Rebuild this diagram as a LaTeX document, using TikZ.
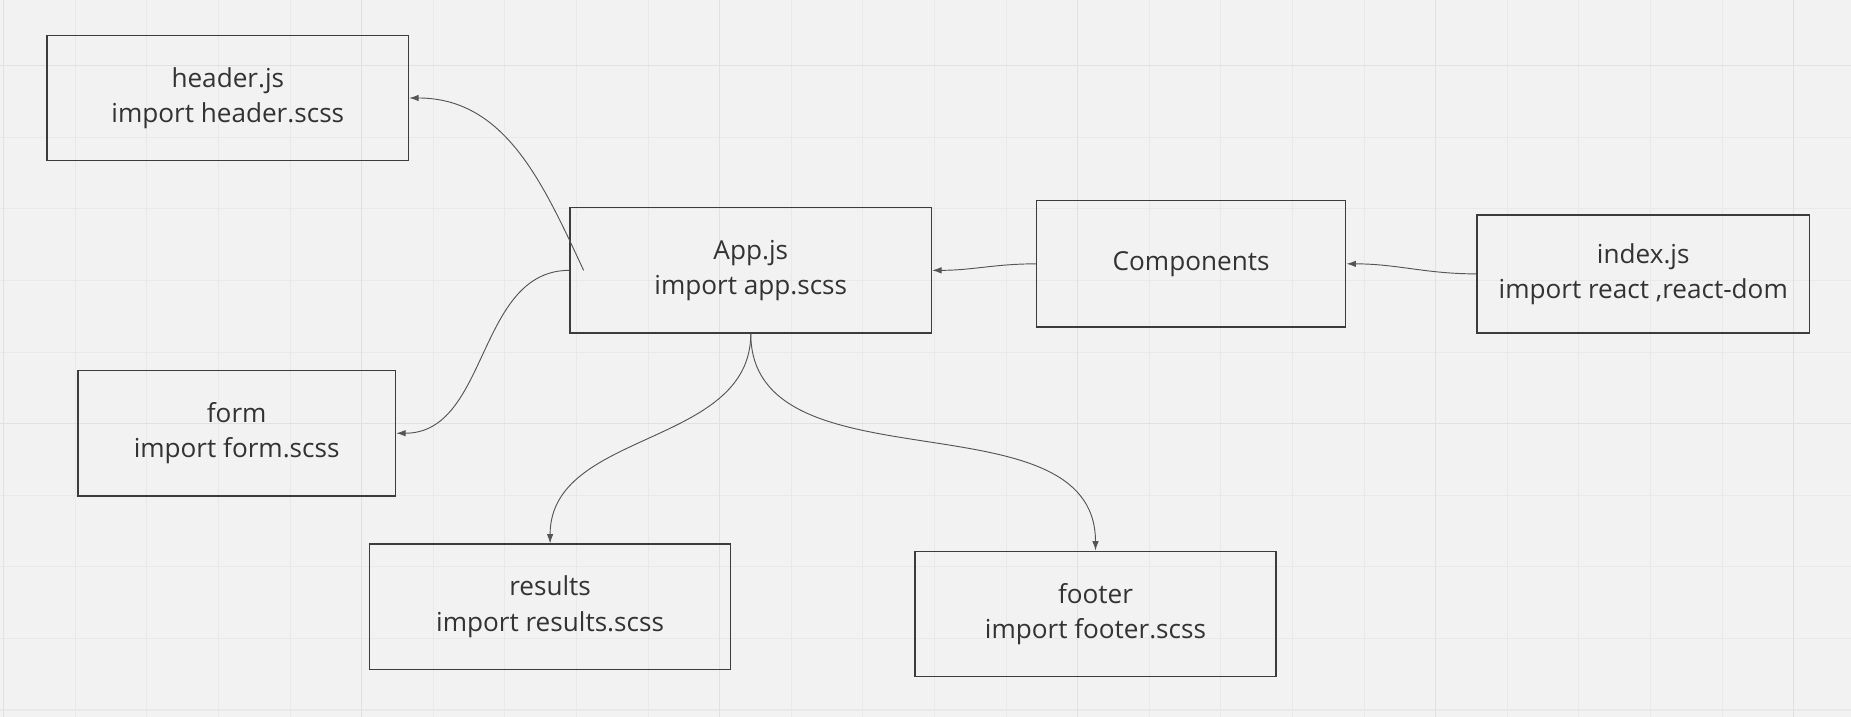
\documentclass[tikz,border=0pt]{standalone}
\usepackage{fontspec}
\setmainfont{Open Sans}
\usepackage{tikz}
\usetikzlibrary{arrows.meta,calc}
\definecolor{board}{HTML}{F2F2F2}
\definecolor{gridln}{HTML}{E9E9E9}
\definecolor{gridmj}{HTML}{E1E1E1}
\definecolor{boxln}{HTML}{3C3C3C}
\definecolor{txt}{HTML}{333333}
\definecolor{arrln}{HTML}{555555}

\begin{document}
\begin{tikzpicture}[x=0.2mm,y=0.2mm,
	box/.style={draw=boxln,line width=0.7pt,text=txt,align=center,font=\fontsize{12.6}{17}\selectfont,minimum width=61.2mm,minimum height=21.2mm,inner sep=0pt},
	link/.style={draw=arrln,line width=0.45pt,-{Latex[length=1.6mm,width=1.1mm]}}]
	\fill[board] (0,0) rectangle (1568,-607);
	\useasboundingbox (0,0) rectangle (1568,-607);
	\foreach \gx in {3.2,63.85,...,1568} \draw[gridln,line width=0.5pt] (\gx,0)--(\gx,-607);
	\foreach \gy in {-55.6,-116.25,...,-607} \draw[gridln,line width=0.5pt] (0,\gy)--(1568,\gy);
	\foreach \gx in {3.2,306.45,...,1568} \draw[gridmj,line width=0.5pt] (\gx,0)--(\gx,-607);
	\foreach \gy in {-55.6,-358.85} \draw[gridmj,line width=0.5pt] (0,\gy)--(1568,\gy);

		    \node[box] (hdr) at (193,-83) {header.js\\import header.scss};
		    \node[box] (app) at (636,-229) {App.js\\import app.scss};
		    \node[box,minimum width=52.4mm,minimum height=21.4mm] (comp) at (1009,-223.5) {Components};
		    \node[box,minimum width=56.4mm,minimum height=20mm] (idx) at (1392,-232) {index.js\\import react ,react-dom};
		    \node[box,minimum width=53.8mm] (frm) at (200.5,-367) {form\\import form.scss};
		    \node[box] (res) at (466,-514) {results\\import results.scss};
		    \node[box] (ftr) at (928,-520) {footer\\import footer.scss};
    \draw[link] (idx.west) to[out=180,in=0] (comp.east);
    \draw[link] (comp.west) to[out=180,in=0] (app.east);
    \draw[link] ([xshift=2.4mm]app.west) to[out=115,in=0] (hdr.east);
    \draw[link] (app.west) to[out=180,in=0] (frm.east);
    \draw[link] (app.south) to[out=-90,in=90] (res.north);
    \draw[link] (app.south) to[out=-90,in=90] (ftr.north);
\end{tikzpicture}
\end{document}
